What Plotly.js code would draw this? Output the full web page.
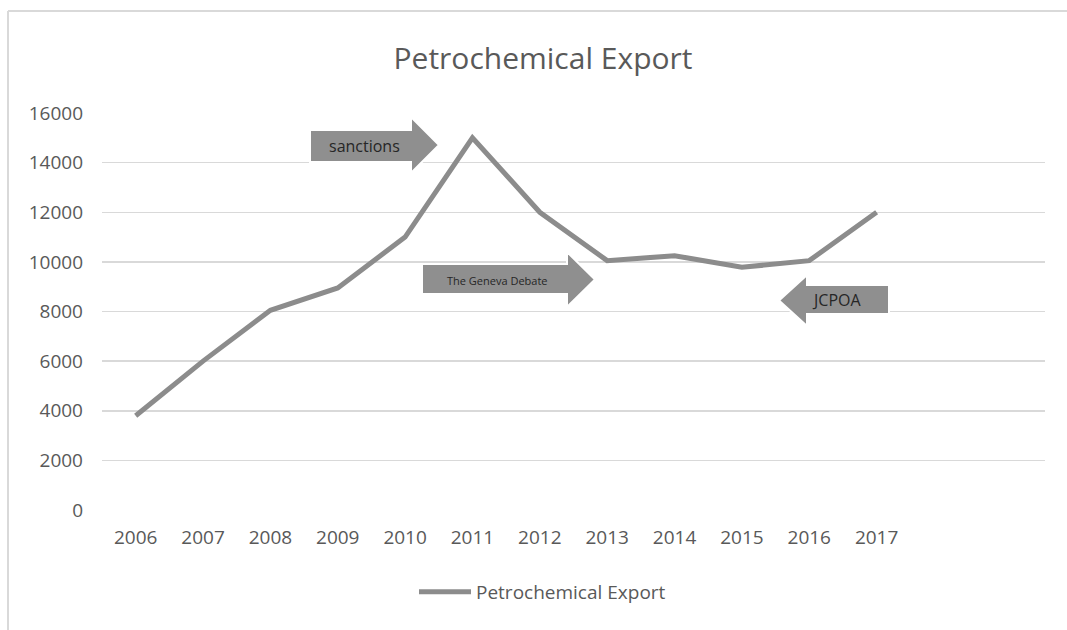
<!DOCTYPE html>
<html>
<head>
<meta charset="utf-8">
<script src="https://cdn.plot.ly/plotly-3.0.1.min.js"></script>
<style>html,body{margin:0;padding:0;background:#fff;}#chart{width:1067px;height:630px;}</style>
</head>
<body>
<div id="chart"></div>
<script>
// ---- data ----
const years = ["2006","2007","2008","2009","2010","2011","2012","2013","2014","2015","2016","2017"];
const exportValues = [3800, 6000, 8050, 8950, 11000, 15000, 12000, 10050, 10250, 9780, 10050, 12000];
const seriesName = "Petrochemical Export";
const chartTitle = "Petrochemical Export";
const yTicks = [0, 2000, 4000, 6000, 8000, 10000, 12000, 14000, 16000];
const arrowLabels = ["sanctions", "The Geneva Debate", "JCPOA"];

// ---- geometry helpers (pixel -> paper) ----
const W = 1067, H = 630;
const L = 102, R = 1045, T = 113, B = 510;
const px = x => (x - L) / (R - L);
const py = y => (B - y) / (B - T);

function arrowPath(pts) {
  return pts.map((p, i) => (i ? 'L' : 'M') + px(p[0]).toFixed(5) + ',' + py(p[1]).toFixed(5)).join(' ') + ' Z';
}
function rightArrow(x0, x1, tip, bt, bb, ht, hb) {
  const my = (ht + hb) / 2;
  return arrowPath([[x0, bt], [x1, bt], [x1, ht], [tip, my], [x1, hb], [x1, bb], [x0, bb]]);
}
function leftArrow(x0, x1, tip, bt, bb, ht, hb) {
  const my = (ht + hb) / 2;
  return arrowPath([[x1, bt], [x0, bt], [x0, ht], [tip, my], [x0, hb], [x0, bb], [x1, bb]]);
}

const arrowFill = '#8f8f8f';
const shapes = [
  {type: 'line', xref: 'paper', yref: 'paper', x0: px(8), x1: px(8), y0: py(11), y1: py(640), line: {color: '#d9d9d9', width: 2}},
  {type: 'line', xref: 'paper', yref: 'paper', x0: px(8), x1: px(1080), y0: py(11), y1: py(11), line: {color: '#d9d9d9', width: 2}},
  {type: 'path', xref: 'paper', yref: 'paper', path: rightArrow(310, 411, 439, 130, 162, 117, 173), fillcolor: arrowFill, line: {color: '#ffffff', width: 2}},
  {type: 'path', xref: 'paper', yref: 'paper', path: rightArrow(422, 567, 595, 264, 294, 252, 307), fillcolor: arrowFill, line: {color: '#ffffff', width: 2}},
  {type: 'path', xref: 'paper', yref: 'paper', path: leftArrow(807, 889, 779, 285, 314, 275, 326), fillcolor: arrowFill, line: {color: '#ffffff', width: 2}}
];

const annFont = s => ({family: 'Open Sans', size: s, color: '#262626'});
const annotations = [
  {text: arrowLabels[0], xref: 'paper', yref: 'paper', x: px(364), y: py(146), xanchor: 'center', yanchor: 'middle', showarrow: false, font: annFont(16)},
  {text: arrowLabels[1], xref: 'paper', yref: 'paper', x: px(497), y: py(280), xanchor: 'center', yanchor: 'middle', showarrow: false, font: annFont(11)},
  {text: arrowLabels[2], xref: 'paper', yref: 'paper', x: px(836), y: py(300), xanchor: 'center', yanchor: 'middle', showarrow: false, font: annFont(16)}
];

const trace = {
  type: 'scatter', mode: 'lines', name: seriesName,
  x: years, y: exportValues,
  line: {color: '#8c8c8c', width: 5, shape: 'linear'},
  cliponaxis: false
};

const layout = {
  width: W, height: H,
  margin: {l: L, r: W - R, t: T, b: H - B, pad: 0},
  paper_bgcolor: '#ffffff', plot_bgcolor: '#ffffff',
  font: {family: 'Open Sans', color: '#595959'},
  title: {text: chartTitle, x: px(543), xanchor: 'center', xref: 'paper', y: 1 - 58 / H, yanchor: 'middle', font: {family: 'Open Sans', size: 30, color: '#595959'}},
  xaxis: {type: 'category', range: [-0.5, 13.5], showgrid: false, zeroline: false, showline: false, ticks: '', ticklabelstandoff: 14, tickfont: {size: 19, color: '#595959'}, fixedrange: true},
  yaxis: {range: [0, 16000], tickvals: yTicks, ticktext: yTicks.map(String), showgrid: true, gridcolor: '#d9d9d9', gridwidth: 1.5, zeroline: false, showline: false, ticks: '', ticklabelstandoff: 18, tickfont: {size: 19, color: '#595959'}, fixedrange: true},
  showlegend: true,
  legend: {orientation: 'h', x: px(414), xanchor: 'left', y: py(592), yanchor: 'middle', itemwidth: 52, font: {family: 'Open Sans', size: 19, color: '#595959'}, bgcolor: 'rgba(0,0,0,0)'},
  shapes: shapes,
  annotations: annotations
};

Plotly.newPlot('chart', [trace], layout, {displayModeBar: false, staticPlot: true});
</script>
</body>
</html>
